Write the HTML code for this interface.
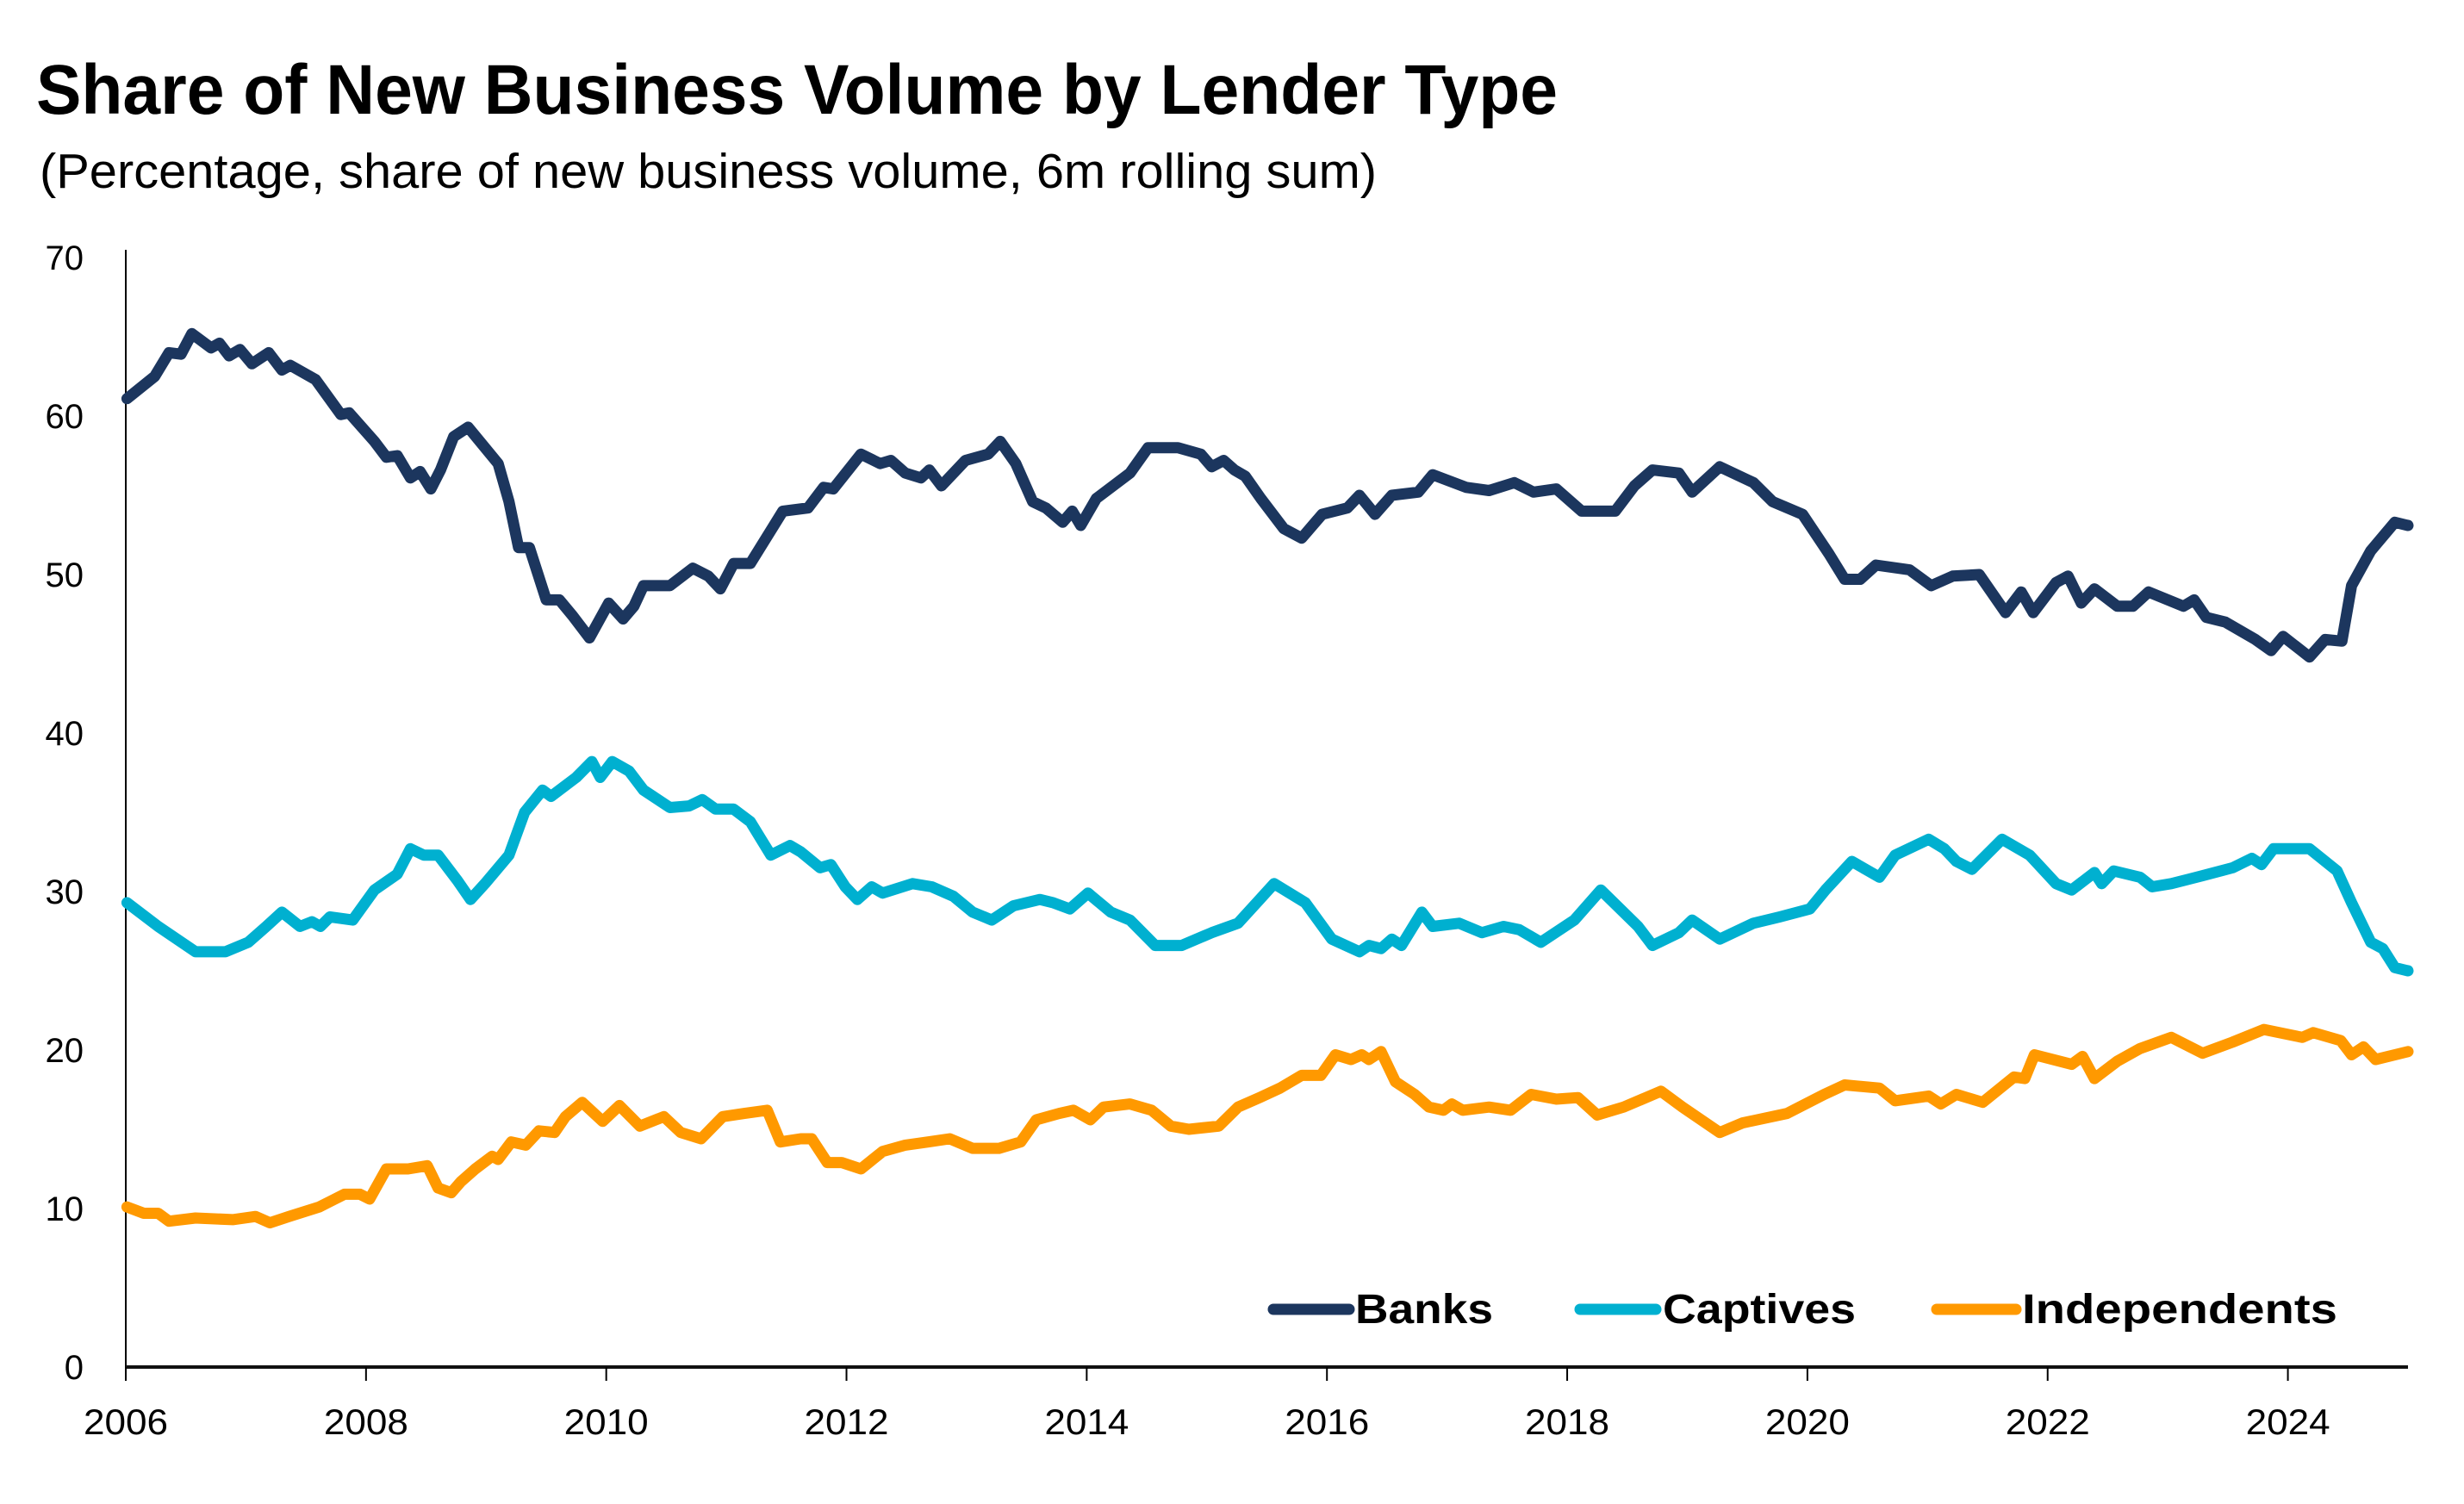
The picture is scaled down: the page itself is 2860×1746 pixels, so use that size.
<!DOCTYPE html>
<html><head><meta charset="utf-8"><style>
html,body{margin:0;padding:0;background:#fff;}
svg{display:block;font-family:"Liberation Sans",sans-serif;}
</style></head><body>
<svg id="chart" width="2860" height="1746" viewBox="0 0 2860 1746">
<text x="42" y="132" font-size="82" font-weight="bold" textLength="1766" lengthAdjust="spacingAndGlyphs" fill="#000">Share of New Business Volume by Lender Type</text>
<text x="46" y="218" font-size="57" textLength="1552" lengthAdjust="spacingAndGlyphs" fill="#000">(Percentage, share of new business volume, 6m rolling sum)</text>
<g id="axes"></g>
<g id="series"></g>
<g id="legend">
<line x1="1478" y1="1520" x2="1566" y2="1520" stroke="#1c365e" stroke-width="13" stroke-linecap="round"/>
<text x="1573" y="1536" font-size="48" font-weight="bold" textLength="160" lengthAdjust="spacingAndGlyphs" fill="#000">Banks</text>
<line x1="1834" y1="1520" x2="1922" y2="1520" stroke="#00b0d0" stroke-width="13" stroke-linecap="round"/>
<text x="1930" y="1536" font-size="48" font-weight="bold" textLength="224" lengthAdjust="spacingAndGlyphs" fill="#000">Captives</text>
<line x1="2248" y1="1520" x2="2340" y2="1520" stroke="#ff9900" stroke-width="13" stroke-linecap="round"/>
<text x="2347" y="1536" font-size="48" font-weight="bold" textLength="366" lengthAdjust="spacingAndGlyphs" fill="#000">Independents</text>
</g>
</svg>
<script>
const yTicks = [0,10,20,30,40,50,60,70];
const xTicks = [2006,2008,2010,2012,2014,2016,2018,2020,2022,2024];
const banksYears = [2006.01,2006.24,2006.36,2006.46,2006.55,2006.71,2006.78,2006.86,2006.95,2007.05,2007.19,2007.30,2007.37,2007.58,2007.79,2007.86,2008.07,2008.17,2008.26,2008.37,2008.45,2008.54,2008.62,2008.73,2008.85,2009.10,2009.19,2009.27,2009.36,2009.50,2009.61,2009.72,2009.86,2010.02,2010.14,2010.23,2010.31,2010.53,2010.72,2010.85,2010.95,2011.06,2011.20,2011.47,2011.68,2011.81,2011.89,2012.12,2012.28,2012.37,2012.49,2012.62,2012.69,2012.79,2012.99,2013.18,2013.28,2013.41,2013.55,2013.66,2013.80,2013.88,2013.95,2014.08,2014.36,2014.51,2014.76,2014.95,2015.04,2015.14,2015.23,2015.32,2015.45,2015.64,2015.79,2015.96,2016.17,2016.27,2016.40,2016.54,2016.76,2016.88,2017.16,2017.35,2017.56,2017.72,2017.91,2018.12,2018.40,2018.56,2018.71,2018.93,2019.04,2019.27,2019.55,2019.71,2019.96,2020.18,2020.31,2020.44,2020.57,2020.85,2021.03,2021.21,2021.43,2021.65,2021.78,2021.88,2022.07,2022.17,2022.28,2022.39,2022.58,2022.71,2022.84,2023.13,2023.22,2023.32,2023.48,2023.73,2023.86,2023.96,2024.18,2024.31,2024.45,2024.53,2024.69,2024.89,2025.00];
const banksValues = [61.1,62.5,64.0,63.9,65.2,64.3,64.6,63.8,64.2,63.3,64.0,62.9,63.2,62.3,60.1,60.2,58.4,57.4,57.5,56.1,56.5,55.4,56.6,58.7,59.3,57.0,54.6,51.7,51.7,48.4,48.4,47.4,46.0,48.2,47.2,48.0,49.3,49.3,50.4,49.9,49.1,50.7,50.7,54.0,54.2,55.5,55.4,57.6,57.0,57.2,56.4,56.1,56.6,55.6,57.2,57.6,58.4,57.0,54.6,54.2,53.3,54.0,53.1,54.8,56.4,58.0,58.0,57.6,56.8,57.2,56.6,56.2,54.8,52.9,52.3,53.8,54.2,55.0,53.8,55.0,55.2,56.3,55.5,55.3,55.8,55.2,55.4,54.0,54.0,55.6,56.6,56.4,55.2,56.8,55.8,54.6,53.8,51.3,49.7,49.7,50.6,50.3,49.3,49.9,50.0,47.6,48.9,47.6,49.5,49.9,48.2,49.1,48.0,48.0,48.9,48.0,48.4,47.3,47.0,45.9,45.2,46.1,44.8,45.9,45.8,49.3,51.5,53.3,53.1];
const captivesYears = [2006.01,2006.27,2006.58,2006.83,2007.02,2007.17,2007.30,2007.45,2007.55,2007.62,2007.70,2007.89,2008.07,2008.26,2008.37,2008.48,2008.60,2008.76,2008.87,2008.99,2009.19,2009.32,2009.47,2009.54,2009.75,2009.88,2009.95,2010.05,2010.19,2010.31,2010.53,2010.69,2010.80,2010.91,2011.06,2011.20,2011.37,2011.53,2011.62,2011.78,2011.87,2011.99,2012.09,2012.21,2012.30,2012.55,2012.71,2012.89,2013.05,2013.21,2013.39,2013.61,2013.72,2013.86,2014.01,2014.20,2014.36,2014.57,2014.79,2015.04,2015.26,2015.44,2015.56,2015.82,2016.04,2016.27,2016.35,2016.45,2016.54,2016.62,2016.79,2016.88,2017.10,2017.29,2017.47,2017.60,2017.78,2018.06,2018.28,2018.59,2018.71,2018.93,2019.04,2019.27,2019.55,2019.77,2020.02,2020.15,2020.37,2020.60,2020.73,2021.01,2021.14,2021.24,2021.37,2021.62,2021.85,2022.07,2022.20,2022.39,2022.45,2022.55,2022.77,2022.87,2023.03,2023.29,2023.54,2023.70,2023.78,2023.88,2024.18,2024.41,2024.53,2024.69,2024.79,2024.89,2025.00];
const captivesValues = [29.3,27.8,26.2,26.2,26.8,27.8,28.7,27.8,28.1,27.8,28.4,28.2,30.1,31.1,32.7,32.3,32.3,30.7,29.5,30.5,32.3,35.0,36.4,36.0,37.2,38.2,37.2,38.2,37.6,36.4,35.3,35.4,35.8,35.2,35.2,34.4,32.3,32.9,32.5,31.5,31.7,30.3,29.5,30.3,29.9,30.5,30.3,29.7,28.7,28.2,29.1,29.5,29.3,28.9,29.9,28.7,28.2,26.6,26.6,27.4,28.0,29.5,30.5,29.3,27.0,26.2,26.6,26.4,27.0,26.6,28.7,27.8,28.0,27.4,27.8,27.6,26.8,28.2,30.1,27.8,26.6,27.4,28.2,27.0,28.0,28.4,28.9,30.1,31.9,30.9,32.3,33.3,32.7,31.9,31.4,33.3,32.3,30.5,30.1,31.2,30.5,31.3,30.9,30.3,30.5,31.0,31.5,32.1,31.7,32.7,32.7,31.3,29.3,26.8,26.4,25.2,25.0];
const indepYears = [2006.01,2006.15,2006.27,2006.36,2006.58,2006.89,2007.08,2007.20,2007.36,2007.61,2007.82,2007.95,2008.03,2008.17,2008.35,2008.51,2008.60,2008.71,2008.79,2008.91,2009.05,2009.10,2009.21,2009.33,2009.44,2009.57,2009.66,2009.80,2009.97,2010.11,2010.28,2010.48,2010.62,2010.79,2010.97,2011.15,2011.34,2011.45,2011.62,2011.71,2011.84,2011.96,2012.12,2012.30,2012.49,2012.68,2012.86,2013.05,2013.27,2013.45,2013.58,2013.77,2013.89,2014.03,2014.14,2014.36,2014.54,2014.70,2014.85,2015.10,2015.26,2015.44,2015.61,2015.79,2015.95,2016.07,2016.20,2016.29,2016.35,2016.45,2016.57,2016.73,2016.85,2016.97,2017.04,2017.13,2017.35,2017.53,2017.70,2017.91,2018.09,2018.25,2018.47,2018.78,2018.96,2019.27,2019.46,2019.83,2020.14,2020.31,2020.60,2020.73,2021.01,2021.11,2021.24,2021.46,2021.72,2021.81,2021.89,2022.20,2022.29,2022.39,2022.58,2022.77,2023.03,2023.29,2023.54,2023.80,2024.12,2024.21,2024.44,2024.53,2024.63,2024.73,2025.00];
const indepValues = [10.1,9.7,9.7,9.2,9.4,9.3,9.5,9.1,9.5,10.1,10.9,10.9,10.6,12.5,12.5,12.7,11.3,11.0,11.7,12.5,13.3,13.1,14.2,14.0,14.9,14.8,15.8,16.7,15.5,16.5,15.2,15.8,14.8,14.4,15.8,16.0,16.2,14.2,14.4,14.4,12.9,12.9,12.5,13.6,14.0,14.2,14.4,13.8,13.8,14.2,15.6,16.0,16.2,15.6,16.4,16.6,16.2,15.2,15.0,15.2,16.4,17.0,17.6,18.4,18.4,19.7,19.4,19.7,19.4,19.9,18.0,17.2,16.4,16.2,16.6,16.2,16.4,16.2,17.2,16.9,17.0,15.9,16.4,17.4,16.4,14.8,15.4,16.0,17.2,17.8,17.6,16.8,17.1,16.6,17.2,16.7,18.3,18.2,19.7,19.1,19.6,18.2,19.3,20.1,20.8,19.8,20.5,21.3,20.8,21.1,20.6,19.7,20.2,19.4,19.9];

const NS = "http://www.w3.org/2000/svg";
const X0 = 146, X1 = 2795, Y0 = 1587, Y1 = 299;
const xScale = t => X0 + (t - 2006) / (2025 - 2006) * (X1 - X0);
const yScale = v => Y0 - v / 70 * (Y0 - Y1);
const axes = document.getElementById('axes');
const series = document.getElementById('series');
function mk(tag, attrs, parent) {
  const el = document.createElementNS(NS, tag);
  for (const k in attrs) el.setAttribute(k, attrs[k]);
  parent.appendChild(el);
  return el;
}
const yAxis = mk('line', {x1: X0, y1: 290, x2: X0, y2: Y0, stroke: '#000', 'stroke-width': 2}, axes);


const xAxis = mk('line', {x1: X0, y1: Y0, x2: X1, y2: Y0, stroke: '#111', 'stroke-width': 4}, axes);


yTicks.forEach(v => {
  const t = mk('text', {x: 97, y: yScale(v) + 14, 'font-size': 40, 'text-anchor': 'end', fill: '#000'}, axes);
  t.textContent = v;
  
  
});
xTicks.forEach(yr => {
  const x = xScale(yr);
  const tk = mk('line', {x1: x, y1: Y0, x2: x, y2: Y0 + 16, stroke: '#000', 'stroke-width': 2}, axes);
  
  
  const t = mk('text', {x: x, y: 1665, 'font-size': 42, 'text-anchor': 'middle', textLength: 98, lengthAdjust: 'spacingAndGlyphs', fill: '#000'}, axes);
  t.textContent = yr;
  
  
});
function drawLine(years, vals, color, name) {
  const d = years.map((t, i) => (i ? 'L' : 'M') + xScale(t).toFixed(1) + ' ' + yScale(vals[i]).toFixed(1)).join(' ');
  const p = mk('path', {d: d, fill: 'none', stroke: color, 'stroke-width': 13, 'stroke-linejoin': 'round', 'stroke-linecap': 'round'}, series);
  
  
}
drawLine(indepYears, indepValues, '#ff9900', 'independents-line');
drawLine(captivesYears, captivesValues, '#00b0d0', 'captives-line');
drawLine(banksYears, banksValues, '#1c365e', 'banks-line');
</script>
</body></html>
